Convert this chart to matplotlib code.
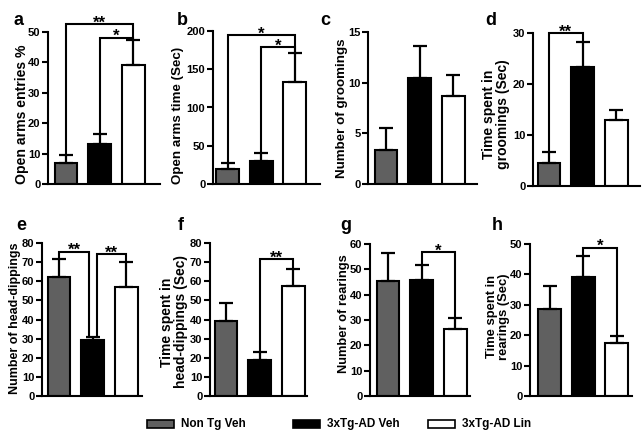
import matplotlib
matplotlib.use("Agg")
import matplotlib.pyplot as plt
import matplotlib.patches as patches
import numpy as np

plt.rcParams['font.family'] = ['Liberation Sans', 'DejaVu Sans']
plt.rcParams['font.weight'] = 'bold'
plt.rcParams['axes.labelweight'] = 'bold'

# --- data ---
groups = ["Non Tg Veh", "3xTg-AD Veh", "3xTg-AD Lin"]
colors = ["#606060", "#000000", "#ffffff"]

open_entries = [7.0, 13.0, 39.3]
open_entries_err = [2.5, 3.5, 8.0]
open_time = [19.6, 30.5, 133.0]
open_time_err = [8.2, 10.0, 38.0]
groomings = [3.4, 10.5, 8.7]
groomings_err = [2.1, 3.1, 2.1]
grooming_time = [4.6, 23.4, 12.9]
grooming_time_err = [2.1, 4.9, 2.0]
head_dips = [62.1, 29.3, 57.2]
head_dips_err = [9.6, 1.4, 12.8]
head_dip_time = [39.2, 18.7, 57.5]
head_dip_time_err = [9.6, 4.2, 9.1]
rearings = [45.4, 45.8, 26.4]
rearings_err = [10.9, 5.9, 4.3]
rearing_time = [28.6, 39.3, 17.5]
rearing_time_err = [7.6, 6.6, 2.3]

# significance brackets: (bar i, bar j, height, label, x offset i, x offset j)
brackets = {
    'a': [(0, 2, 52.6, '**', 0, 0), (1, 2, 48.1, '*', 0, 0)],
    'b': [(0, 2, 195, '*', 0, 0), (1, 2, 179, '*', 0, 0)],
    'c': [],
    'd': [(0, 1, 30.0, '**', 0, 0)],
    'e': [(0, 1, 75.5, '**', 0, -0.1), (1, 2, 74.3, '**', 0.12, 0)],
    'f': [(1, 2, 71.5, '**', 0, 0)],
    'g': [(1, 2, 56.7, '*', 0, 0)],
    'h': [(1, 2, 48.8, '*', 0, 0)],
}

panels = [
    ('a', open_entries, open_entries_err, "Open arms entries %", 50, 10),
    ('b', open_time, open_time_err, "Open arms time (Sec)", 200, 50),
    ('c', groomings, groomings_err, "Number of groomings", 15, 5),
    ('d', grooming_time, grooming_time_err, "Time spent in\ngroomings (Sec)", 30, 10),
    ('e', head_dips, head_dips_err, "Number of head-dippings", 80, 10),
    ('f', head_dip_time, head_dip_time_err, "Time spent in\nhead-dippings (Sec)", 80, 10),
    ('g', rearings, rearings_err, "Number of rearings", 60, 10),
    ('h', rearing_time, rearing_time_err, "Time spent in\nrearings (Sec)", 50, 10),
]

# layout in pixels: axis left, axis right, top, bottom, centre of first bar,
# y-label centre (x, y), y-label font size, panel letter x
W, H = 643, 438
layout = {
    'a': (48, 160, 32, 184, 66, 22, 114, 10.1, 14),
    'b': (213, 320, 31, 184, 227.5, 178.5, 115, 9.6, 177),
    'c': (368, 477, 32, 184, 386, 342.5, 108, 9.6, 320),
    'd': (533, 640, 33, 186, 549, 496, 114, 10.0, 485),
    'e': (42, 142, 243, 396, 59, 15.5, 318, 9.0, 16),
    'f': (210, 307, 243, 396, 226, 173.5, 322, 10.0, 178),
    'g': (370, 470, 244, 396, 388, 344.5, 314, 9.3, 340),
    'h': (530, 632, 244, 396, 549.5, 498.5, 317, 9.4, 492),
}
px_per_unit = 33.7

fig = plt.figure(figsize=(W / 100, H / 100), dpi=100)

for letter, vals, errs, ylabel, ymax, ystep in panels:
    left, right, top, bottom, c0, lab_x, lab_y, lab_fs, let_x = layout[letter]
    ax = fig.add_axes([left / W, 1 - bottom / H, (right - left) / W, (bottom - top) / H])
    x = np.arange(len(vals))
    ax.bar(x, vals, width=0.68, color=colors, edgecolor='black', linewidth=1.5, zorder=2)
    ax.errorbar(x, vals, yerr=[np.zeros(len(vals)), errs], fmt='none', ecolor='black',
                elinewidth=1.6, capsize=5, capthick=1.6, zorder=3)

    xmin = -(c0 - left) / px_per_unit
    ax.set_xlim(xmin, xmin + (right - left) / px_per_unit)
    ax.set_ylim(0, ymax)
    ax.set_xticks([])
    ax.set_yticks(np.arange(0, ymax + 1, ystep))
    ax.tick_params(axis='y', length=4, width=1.5, labelsize=8, pad=1.5)
    for s in ['top', 'right']:
        ax.spines[s].set_visible(False)
    for s in ['left', 'bottom']:
        ax.spines[s].set_linewidth(1.5)
    ax.set_ylabel(ylabel, fontsize=lab_fs, linespacing=1.0, va='center')
    ax.yaxis.set_label_coords((lab_x - left) / (right - left), (bottom - lab_y) / (bottom - top))

    tops = np.array(vals) + np.array(errs)
    for i, j, h, lab, di, dj in brackets[letter]:
        xi, xj = i + di, j + dj
        ax.plot([xi, xi, xj, xj], [tops[i], h, h, tops[j]], color='black', lw=1.5,
                clip_on=False, zorder=4, solid_joinstyle='miter')
        ax.annotate(lab, ((xi + xj) / 2, h), xytext=(0, -2.5), textcoords='offset points',
                    ha='center', va='baseline', fontsize=12, fontweight='bold',
                    annotation_clip=False)

    ly = 25 if top < 100 else 230
    fig.text(let_x / W, 1 - ly / H, letter, fontsize=13, fontweight='bold', va='baseline')

# --- legend ---
leg_x = [147, 293, 428]
for gx, col, name in zip(leg_x, colors, groups):
    fig.add_artist(patches.Rectangle((gx / W, 1 - 428 / H), 27 / W, 8 / H, facecolor=col,
                                     edgecolor='black', linewidth=1.2,
                                     transform=fig.transFigure))
    fig.text((gx + 34) / W, 1 - 424 / H, name, fontsize=8.5, fontweight='bold', va='center')

fig.savefig("out.png", dpi=100)
